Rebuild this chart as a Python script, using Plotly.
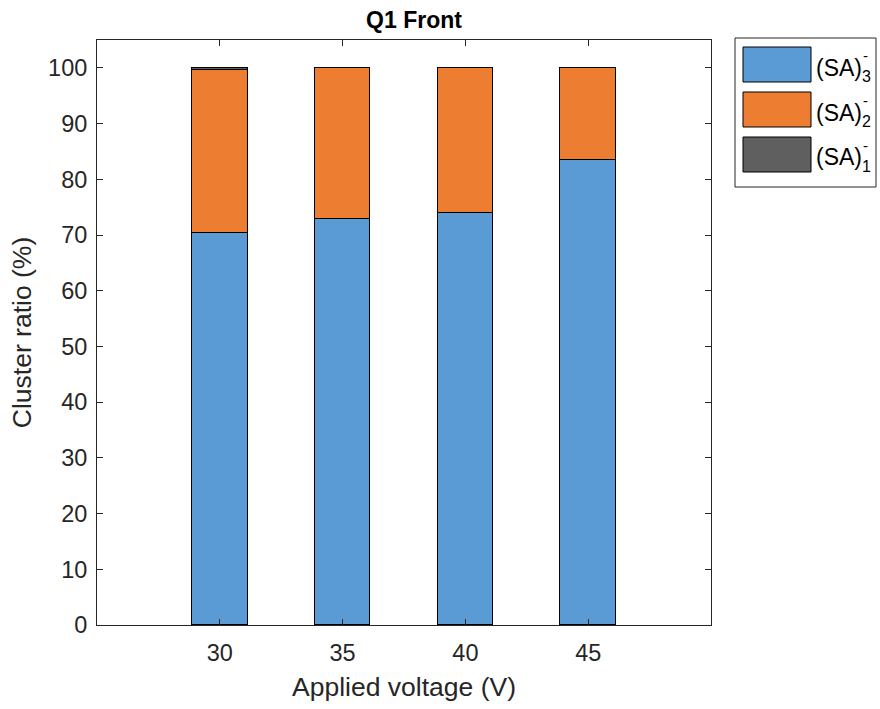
import plotly.graph_objects as go

voltages = [30, 35, 40, 45]
sa3 = [70.4, 72.8, 74.0, 83.4]
sa2 = [29.3, 27.2, 26.0, 16.6]
sa1 = [0.3, 0.0, 0.0, 0.0]
series_names = ["(SA)<sub>3</sub><sup>-</sup>", "(SA)<sub>2</sub><sup>-</sup>", "(SA)<sub>1</sub><sup>-</sup>"]
sub_labels = ["3", "2", "1"]
colors = ["#5B9BD5", "#ED7D31", "#5F5F5F"]
y_ticks = list(range(0, 101, 10))

FONT = "Liberation Sans, Arial, sans-serif"
AX = "#262626"

fig = go.Figure()
for vals, name, col in zip([sa3, sa2, sa1], series_names, colors):
    fig.add_trace(go.Bar(
        x=voltages, y=vals, name=name, width=2.26,
        marker=dict(color=col, line=dict(color="black", width=1)),
        showlegend=False,
    ))

W, H = 880, 709
L, R, T, B = 97, 711, 40, 625
pw, ph = R - L, B - T

def px(x):
    return (x - L) / pw

def py(y):
    return (B - y) / ph

shapes = []
annotations = []
# legend box
shapes.append(dict(type="rect", xref="paper", yref="paper",
                   x0=px(735), x1=px(876), y0=py(187), y1=py(38),
                   line=dict(color=AX, width=1), fillcolor="white", layer="above"))
sw_tops = [47, 92, 137]
for i, (col, sub) in enumerate(zip(colors, sub_labels)):
    y0 = sw_tops[i]
    y1 = y0 + 35
    shapes.append(dict(type="rect", xref="paper", yref="paper",
                       x0=px(743), x1=px(811), y0=py(y1), y1=py(y0),
                       line=dict(color="black", width=1), fillcolor=col, layer="above"))
    cy = (y0 + y1) / 2
    annotations.append(dict(xref="paper", yref="paper", x=px(814), y=py(cy + 3),
                            xanchor="left", yanchor="middle", showarrow=False,
                            text="(SA)", font=dict(family=FONT, size=23, color="#000")))
    annotations.append(dict(xref="paper", yref="paper", x=px(860), y=py(cy + 12),
                            xanchor="left", yanchor="middle", showarrow=False,
                            text=sub, font=dict(family=FONT, size=16, color="#000")))
    annotations.append(dict(xref="paper", yref="paper", x=px(861), y=py(cy - 9),
                            xanchor="left", yanchor="middle", showarrow=False,
                            text="-", font=dict(family=FONT, size=15, color="#000")))

fig.update_layout(
    width=W, height=H,
    margin=dict(l=L, r=W - R, t=T, b=H - B, pad=0),
    barmode="stack",
    plot_bgcolor="white", paper_bgcolor="white",
    font=dict(family=FONT, size=23, color=AX),
    title=dict(text="<b>Q1 Front</b>", x=px(414), xanchor="center", xref="paper",
               y=1 - 20 / H, yanchor="middle", font=dict(family=FONT, size=23, color="#000")),
    shapes=shapes, annotations=annotations,
    showlegend=False,
    bargap=0,
)
fig.update_xaxes(
    range=[25, 50], tickvals=voltages, ticktext=[str(v) for v in voltages],
    ticks="inside", ticklen=6, tickcolor=AX, showline=True, linecolor=AX, linewidth=1,
    mirror="ticks", showgrid=False, zeroline=False, ticklabelstandoff=7,
    title=dict(text="Applied voltage (V)", standoff=12, font=dict(family=FONT, size=26.5, color=AX)),
    tickfont=dict(family=FONT, size=23.5, color=AX),
)
fig.update_yaxes(
    range=[0, 105], tickvals=y_ticks,
    ticks="inside", ticklen=6, tickcolor=AX, showline=True, linecolor=AX, linewidth=1,
    mirror="ticks", showgrid=False, zeroline=False, ticklabelstandoff=4,
    title=dict(text="Cluster ratio (%)", standoff=8, font=dict(family=FONT, size=26.5, color=AX)),
    tickfont=dict(family=FONT, size=23.5, color=AX),
)

fig.write_html("out.html")
